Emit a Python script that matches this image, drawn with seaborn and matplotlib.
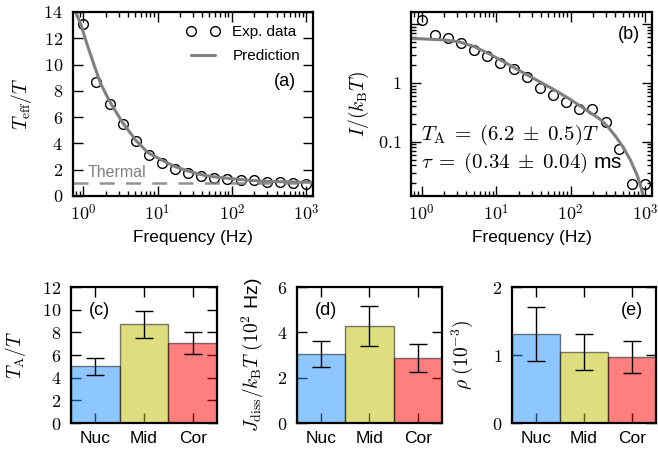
import numpy as np
import matplotlib
matplotlib.use('Agg')
import matplotlib.pyplot as plt
import matplotlib.ticker as mticker
import seaborn as sns

# ---- data ----
freq = [1.0, 1.5, 2.26, 3.39, 5.08, 7.62, 11.4, 17.2, 25.8, 38.7, 58.1,
        87.2, 131, 196, 295, 443, 665, 1000]
teff = [13.1, 8.7, 7.0, 5.5, 4.15, 3.1, 2.5, 2.05, 1.75, 1.52, 1.35,
        1.27, 1.2, 1.18, 1.1, 1.03, 0.97, 0.94]
pred_a_freq = [0.75, 0.79, 0.92, 1.13, 1.39, 1.71, 2.28, 3.34, 5.09, 7.4,
               11.2, 16.9, 25.8, 37.6, 57, 84, 127, 188, 300, 500, 1000, 1300]
pred_a = [14.6, 14.0, 13.1, 11.5, 10.0, 8.56, 7.16, 5.63, 4.24, 3.3,
          2.76, 2.25, 1.9, 1.64, 1.46, 1.36, 1.26, 1.18, 1.12, 1.08, 1.05, 1.04]

intensity = [11.6, 6.6, 5.8, 4.76, 3.68, 2.83, 2.18, 1.69, 1.26, 0.82, 0.62,
             0.466, 0.354, 0.354, 0.213, 0.074, 0.019, 0.019]
pred_b_freq = [0.7, 1, 2, 3.16, 5, 7.9, 10, 15.8, 25, 40, 63, 100, 158,
               251, 316, 398, 501, 631, 794, 891, 955]
pred_b = [5.66, 5.6, 5.37, 5.0, 4.17, 3.16, 2.69, 1.95, 1.41, 1.02, 0.74,
          0.52, 0.355, 0.24, 0.18, 0.126, 0.083, 0.05, 0.026, 0.016, 0.011]

regions = ['Nuc', 'Mid', 'Cor']
ta_vals = [5.0, 8.7, 7.05]
ta_err = [0.75, 1.22, 0.95]
jd_vals = [3.03, 4.27, 2.87]
jd_err = [0.58, 0.88, 0.61]
rho_vals = [1.31, 1.04, 0.97]
rho_err = [0.40, 0.265, 0.24]
bar_colors = ['#1e90ff', '#bfbf00', '#ff0000']

sns.set_style('ticks')
plt.rcParams['font.family'] = ['Liberation Sans', 'DejaVu Sans']
plt.rcParams['mathtext.fontset'] = 'cm'
plt.rcParams['axes.linewidth'] = 1.6
plt.rcParams['axes.edgecolor'] = 'k'
plt.rcParams['xtick.color'] = 'k'
plt.rcParams['ytick.color'] = 'k'
plt.rcParams['text.color'] = 'k'
plt.rcParams['axes.labelcolor'] = 'k'

W, H = 658.0, 453.0
fig = plt.figure(figsize=(W / 100, H / 100), dpi=100)


def box(l, t, r, b):
    return [l / W, (H - b) / H, (r - l) / W, (b - t) / H]


def style(ax, size=13):
    ax.tick_params(which='both', direction='in', top=True, right=True,
                   width=1.0, labelsize=size, color='k')
    ax.tick_params(which='major', length=7)
    ax.tick_params(which='minor', length=3.5)
    ax.tick_params(axis='y', pad=7)
    ax.tick_params(axis='x', pad=6)


def mathfmt(v, p):
    return '$%g$' % v


def decfmt(v, p):
    return '$10^{%d}$' % int(round(np.log10(v)))


# (a)
ax = fig.add_axes(box(72.7, 12, 313, 196))
ax.plot(freq, teff, 'o', mfc='none', mec='k', mew=1.0, ms=7, label='Exp. data')
sns.lineplot(x=pred_a_freq, y=pred_a, ax=ax, color='gray', lw=2.2, label='Prediction', sort=False)
ax.axhline(1, color='gray', lw=1.8, dashes=(6, 4.5), alpha=0.85)
ax.text(1.13, 1.8, 'Thermal', color='gray', fontsize=11.5, va='center')
ax.set_xscale('log')
ax.set_xlim(0.72, 1240)
ax.set_ylim(0, 14)
ax.set_yticks(np.arange(0, 15, 2))
ax.yaxis.set_major_formatter(mticker.FuncFormatter(mathfmt))
ax.xaxis.set_major_formatter(mticker.FuncFormatter(decfmt))
ax.set_xlabel('Frequency (Hz)', fontsize=12.5)
ax.set_ylabel(r'$T_{\rm eff}/T$', fontsize=14, labelpad=7)
ax.text(0.93, 0.625, '(a)', transform=ax.transAxes, fontsize=13, ha='right', va='center')
ax.legend(loc='upper right', numpoints=2, frameon=False, fontsize=11,
          handlelength=2.2, borderaxespad=0.45, labelspacing=0.65)
style(ax)

# (b)
ax = fig.add_axes(box(411, 12, 652, 196))
ax.plot(freq, intensity, 'o', mfc='none', mec='k', mew=1.0, ms=7)
sns.lineplot(x=pred_b_freq, y=pred_b, ax=ax, color='gray', lw=2.2, sort=False)
ax.set_xscale('log')
ax.set_yscale('log')
ax.set_xlim(0.72, 1240)
ax.set_ylim(0.012, 16)
ax.xaxis.set_major_formatter(mticker.FuncFormatter(decfmt))
ax.yaxis.set_major_formatter(mticker.FuncFormatter(
    lambda v, p: {0.1: '$0.1$', 1.0: '$1$'}.get(round(v, 3), '')))
ax.yaxis.set_minor_formatter(mticker.NullFormatter())
ax.set_xlabel('Frequency (Hz)', fontsize=12.5)
ax.set_ylabel(r'$I/(k_{\rm B}T)$', fontsize=14, labelpad=5)
ax.text(0.95, 0.88, '(b)', transform=ax.transAxes, fontsize=13, ha='right', va='center')
ax.text(0.04, 0.33, r'$T_{\rm A}\;=\;(6.2\;\pm\;0.5)T$', transform=ax.transAxes,
        fontsize=15, va='center')
ax.text(0.04, 0.18, r'$\tau\;=\;(0.34\;\pm\;0.04)$ ms', transform=ax.transAxes,
        fontsize=15, va='center')
style(ax)

# bars
bar_specs = [
    (box(71, 287, 217, 423), ta_vals, ta_err, (0, 12), 2, r'$T_{\rm A}/T$', '(c)', 0.12, 'left', 10),
    (box(297, 287, 442, 423), jd_vals, jd_err, (0, 6), 2,
     r'$J_{\rm diss}/k_{\rm B}T\ (10^2\ $Hz)', '(d)', 0.12, 'left', 8),
    (box(512, 287, 656, 423), rho_vals, rho_err, (0, 2), 1, r'$\rho\ (10^{-3})$', '(e)', 0.91, 'right', 12),
]
for rect, vals, errs, ylim, step, ylab, tag, tx, ha, lpad in bar_specs:
    ax = fig.add_axes(rect)
    sns.barplot(x=regions, y=vals, hue=regions, palette=bar_colors, ax=ax,
                width=1.0, alpha=0.5, saturation=1, edgecolor='k', linewidth=1.0,
                legend=False)
    ax.errorbar(range(3), vals, yerr=errs, fmt='none', ecolor='k',
                elinewidth=1.0, capsize=6.5, capthick=1.0)
    ax.set_xlim(-0.5, 2.5)
    ax.set_ylim(*ylim)
    ax.set_yticks(np.arange(ylim[0], ylim[1] + 0.01, step))
    ax.yaxis.set_major_formatter(mticker.FuncFormatter(mathfmt))
    ax.set_ylabel(ylab, fontsize=14, labelpad=lpad)
    ax.text(tx, 0.83, tag, transform=ax.transAxes, fontsize=13, ha=ha, va='center')
    style(ax)
    ax.tick_params(axis='x', labelsize=12.5)

fig.savefig('out.png', dpi=100)
